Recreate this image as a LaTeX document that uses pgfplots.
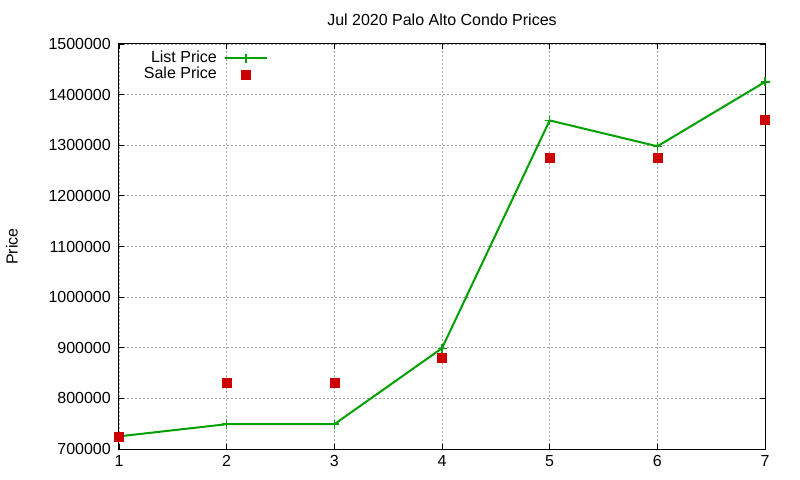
\documentclass[border=0pt]{standalone}
\usepackage{fontspec}
\setmainfont{Liberation Sans}
\usepackage{pgfplots}
\pgfplotsset{compat=1.18}
\definecolor{gpgreen}{RGB}{0,160,0}
\definecolor{gpred}{RGB}{204,0,0}
\definecolor{gpgrid}{RGB}{160,160,160}
\begin{document}
\begin{tikzpicture}
\path[use as bounding box] (-119bp,-31bp) rectangle (681bp,449bp);
\begin{axis}[
  at={(0,0)}, anchor=south west,
  scale only axis,
  width=646bp, height=405bp,
  xmin=1, xmax=7, ymin=700000, ymax=1500000,
  xtick={1,2,3,4,5,6,7},
  ytick={700000,800000,900000,1000000,1100000,1200000,1300000,1400000,1500000},
  scaled y ticks=false,
  /pgf/number format/fixed,
  /pgf/number format/precision=0,
  /pgf/number format/1000 sep={},
  /pgf/number format/assume math mode=true,
  tick align=inside,
  major tick length=5bp,
  tick style={black, line width=0.8bp},
  axis line style={black, line width=1bp},
  grid=major,
  major grid style={gpgrid, line width=0.8bp, dash pattern=on 2bp off 2bp},
  ticklabel style={font=\fontsize{16bp}{19bp}\selectfont},
  yticklabel style={inner sep=0pt, xshift=-8bp, anchor=east},
  xticklabel style={inner sep=0pt, yshift=-6bp, anchor=north},
  title={Jul 2020 Palo Alto Condo Prices},
  title style={font=\fontsize{16bp}{19bp}\selectfont, at={(axis description cs:0.5,1)}, anchor=center, yshift=18bp},
  ylabel={Price},
  every axis y label/.style={at={(axis description cs:0,0.5)}, xshift=-107bp, rotate=90, anchor=center, font=\fontsize{16bp}{19bp}\selectfont},
  legend plot pos=right,
  legend cell align=right,
  legend image code/.code={\draw[mark repeat=2,mark phase=2,#1] plot coordinates {(0bp,0bp) (21bp,0bp) (42bp,0bp)};},
  legend style={
    at={(axis description cs:0.2307,0.985)}, anchor=north east,
    draw=none, fill=none, inner sep=0pt,
    column sep=6bp, row sep=0pt,
    font=\fontsize{16bp}{19bp}\selectfont,
    nodes={inner sep=1bp, text height=11bp, text depth=3bp},
  },
]
\addplot[gpgreen, line width=2bp, mark=+, mark size=4.5bp, mark options={line width=1.5bp}]
  coordinates {(1,725000) (2,749000) (3,749000) (4,899000) (5,1349000) (6,1298000) (7,1425000)};
\addlegendentry{List Price}
\addplot[only marks, mark=square*, mark size=4.5bp, gpred, mark options={draw=gpred, fill=gpred}]
  coordinates {(1,725000) (2,830000) (3,830000) (4,880000) (5,1275000) (6,1275000) (7,1350000)};
\addlegendentry{Sale Price}
\end{axis}
\end{tikzpicture}
\end{document}
